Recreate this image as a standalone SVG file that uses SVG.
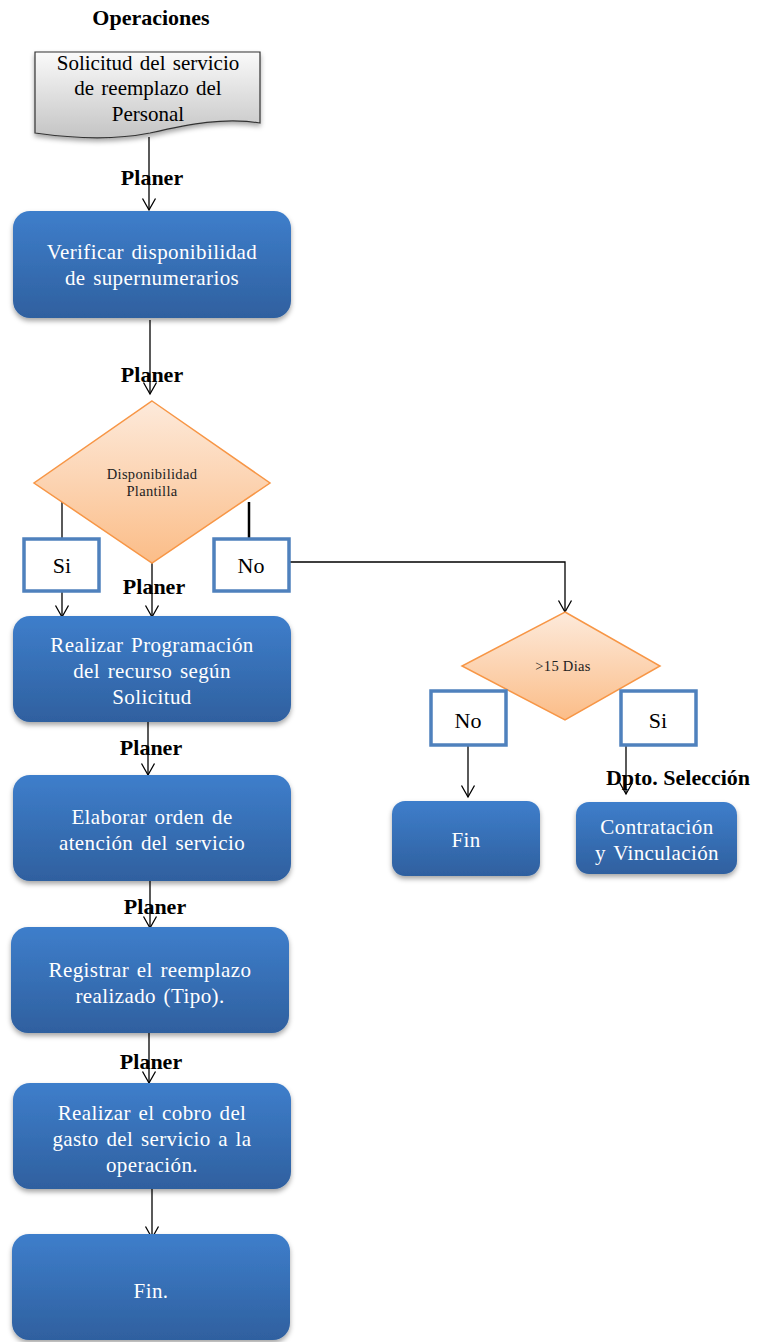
<svg xmlns="http://www.w3.org/2000/svg" width="757" height="1342" viewBox="0 0 757 1342">
<defs>
<linearGradient id="gBlue" x1="0" y1="0" x2="0" y2="1">
<stop offset="0" stop-color="#3e7ecb"/>
<stop offset="1" stop-color="#2f609f"/>
</linearGradient>
<linearGradient id="gOrange" x1="0" y1="0" x2="0" y2="1">
<stop offset="0" stop-color="#fdeadb"/>
<stop offset="1" stop-color="#fbbd88"/>
</linearGradient>
<linearGradient id="gGray" x1="0" y1="0" x2="0" y2="1">
<stop offset="0" stop-color="#fafafa"/>
<stop offset="1" stop-color="#c4c4c4"/>
</linearGradient>
<filter id="sh" x="-10%" y="-10%" width="120%" height="130%">
<feDropShadow dx="0" dy="3" stdDeviation="2.5" flood-color="#000" flood-opacity="0.35"/>
</filter>
<marker id="arr" markerWidth="16" markerHeight="16" refX="13" refY="8" orient="auto" markerUnits="userSpaceOnUse" viewBox="0 0 16 16">
<polyline points="1.5,1.5 13,8 1.5,14.5" fill="none" stroke="#000" stroke-width="1.3"/>
</marker>
</defs>
<style>
.box{fill:url(#gBlue);filter:url(#sh)}
.bt{font-family:"Liberation Serif","Times New Roman",serif;font-size:21px;letter-spacing:0.4px;word-spacing:2px;fill:#fff;text-anchor:middle}
.lbl{font-family:"Liberation Serif","Times New Roman",serif;font-size:22px;font-weight:bold;fill:#000;text-anchor:middle}
.dia{fill:url(#gOrange);stroke:#f79646;stroke-width:1.5}
.dt{font-family:"Liberation Serif","Times New Roman",serif;font-size:14.5px;letter-spacing:0.3px;fill:#222;text-anchor:middle}
.yn{fill:#fff;stroke:#4f81bd;stroke-width:3.5}
.ynt{font-family:"Liberation Serif","Times New Roman",serif;font-size:22px;fill:#000;text-anchor:middle}
.ln{fill:none;stroke:#000;stroke-width:1.3}
.doc{font-family:"Liberation Serif","Times New Roman",serif;font-size:21px;word-spacing:2px;fill:#000;text-anchor:middle}
</style>

<text class="lbl" x="151" y="25">Operaciones</text>

<g id="connectors">
<line class="ln" x1="149" y1="137" x2="149" y2="210" marker-end="url(#arr)"/>
<line class="ln" x1="150" y1="320" x2="150" y2="394" marker-end="url(#arr)"/>
<line class="ln" x1="62" y1="500" x2="62" y2="538"/>
<line class="ln" x1="62" y1="591" x2="62" y2="617" marker-end="url(#arr)"/>
<line class="ln" x1="152" y1="563" x2="152" y2="617" marker-end="url(#arr)"/>
<line x1="249" y1="502" x2="249" y2="538" stroke="#000" stroke-width="2.5"/>
<polyline class="ln" points="289,562 565,562 565,612" marker-end="url(#arr)"/>
<line class="ln" x1="468" y1="745" x2="468" y2="797" marker-end="url(#arr)"/>
<line class="ln" x1="626" y1="745" x2="626" y2="794" marker-end="url(#arr)"/>
<line class="ln" x1="148" y1="722" x2="148" y2="775" marker-end="url(#arr)"/>
<line class="ln" x1="150" y1="876" x2="150" y2="928" marker-end="url(#arr)"/>
<line class="ln" x1="149" y1="1029" x2="149" y2="1083" marker-end="url(#arr)"/>
<line class="ln" x1="152" y1="1185" x2="152" y2="1238" marker-end="url(#arr)"/>
</g>

<g id="n_solicitud">
<path d="M35,52 H260 V123 C225,117 190,124 150,133 C110,141 70,138 35,133 Z" fill="url(#gGray)" stroke="#333" stroke-width="1.2" filter="url(#sh)"/>
<text class="doc" x="148" y="70">Solicitud  del servicio</text>
<text class="doc" x="148" y="95">de reemplazo  del</text>
<text class="doc" x="148" y="121">Personal</text>
</g>

<text class="lbl" x="152" y="185">Planer</text>

<g id="n_verificar">
<rect class="box" x="13" y="211" width="278" height="107" rx="17"/>
<text class="bt" x="152" y="259">Verificar  disponibilidad</text>
<text class="bt" x="152" y="285">de supernumerarios</text>
</g>

<text class="lbl" x="152" y="382">Planer</text>

<g id="n_disp">
<polygon class="dia" points="152,401 270,483 152,563 34,483"/>
<text class="dt" x="152" y="479">Disponibilidad</text>
<text class="dt" x="152" y="496">Plantilla</text>
</g>

<g id="n_si1">
<rect class="yn" x="24" y="539" width="75" height="52"/>
<text class="ynt" x="62" y="573">Si</text>
</g>

<g id="n_no1">
<rect class="yn" x="214" y="539" width="75" height="52"/>
<text class="ynt" x="251" y="573">No</text>
</g>

<text class="lbl" x="154" y="594">Planer</text>

<g id="n_programacion">
<rect class="box" x="13" y="616" width="278" height="106" rx="17"/>
<text class="bt" x="152" y="652">Realizar  Programación</text>
<text class="bt" x="152" y="678">del recurso  según</text>
<text class="bt" x="152" y="704">Solicitud</text>
</g>

<text class="lbl" x="151" y="755">Planer</text>

<g id="n_orden">
<rect class="box" x="13" y="775" width="278" height="106" rx="17"/>
<text class="bt" x="152" y="824">Elaborar  orden de</text>
<text class="bt" x="152" y="850">atención  del servicio</text>
</g>

<text class="lbl" x="155" y="914">Planer</text>

<g id="n_registrar">
<rect class="box" x="11" y="927" width="278" height="106" rx="17"/>
<text class="bt" x="150" y="977">Registrar  el reemplazo</text>
<text class="bt" x="150" y="1003">realizado  (Tipo).</text>
</g>

<text class="lbl" x="151" y="1069">Planer</text>

<g id="n_cobro">
<rect class="box" x="13" y="1083" width="278" height="106" rx="17"/>
<text class="bt" x="152" y="1120">Realizar  el cobro del</text>
<text class="bt" x="152" y="1146">gasto del servicio  a la</text>
<text class="bt" x="152" y="1172">operación.</text>
</g>

<g id="n_fin1">
<rect class="box" x="12" y="1234" width="278" height="106" rx="17"/>
<text class="bt" x="151" y="1298">Fin.</text>
</g>

<g id="n_dias">
<polygon class="dia" points="565,612 660,666 565,720 462,666"/>
<text class="dt" x="563" y="671">&gt;15 Dias</text>
</g>

<g id="n_no2">
<rect class="yn" x="431" y="691" width="75" height="54"/>
<text class="ynt" x="468" y="728">No</text>
</g>

<g id="n_si2">
<rect class="yn" x="621" y="691" width="75" height="54"/>
<text class="ynt" x="658" y="728">Si</text>
</g>

<text class="lbl" x="678" y="785">Dpto. Selección</text>

<g id="n_fin2">
<rect class="box" x="392" y="801" width="148" height="75" rx="13"/>
<text class="bt" x="466" y="847">Fin</text>
</g>

<g id="n_contratacion">
<rect class="box" x="576" y="802" width="161" height="72" rx="13"/>
<text class="bt" x="657" y="834">Contratación</text>
<text class="bt" x="657" y="860">y Vinculación</text>
</g>
</svg>
